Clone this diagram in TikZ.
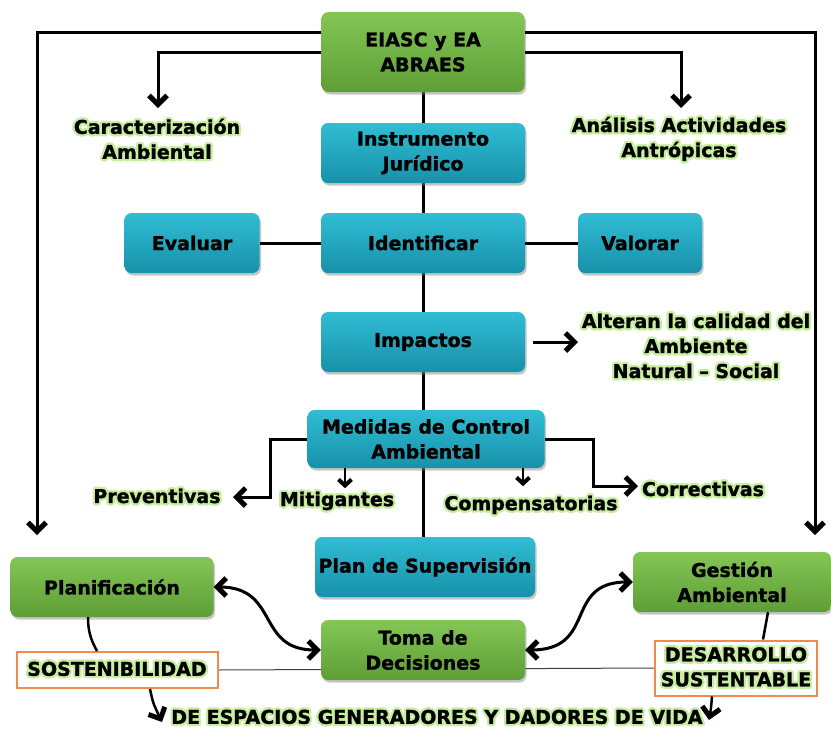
\documentclass[tikz,border=0pt]{standalone}
\usepackage{fontspec}
\setmainfont{DejaVu Sans}[BoldFont={DejaVu Sans Bold}, BoldFeatures={FakeBold=1.3}]
\usepackage{contour}
\usetikzlibrary{arrows.meta,shadows,calc,backgrounds}
\definecolor{gtop}{HTML}{84C656}
\definecolor{gbot}{HTML}{5E9E36}
\definecolor{ctop}{HTML}{30BDD4}
\definecolor{cbot}{HTML}{1791A9}
\definecolor{glowc}{HTML}{C6EE9E}
\definecolor{orangec}{HTML}{F08A4E}
\contourlength{2.2pt}
\newcommand{\gl}[1]{\contour{glowc}{#1}}
\begin{document}
\begin{tikzpicture}[x=1pt,y=-1pt,
  box/.style={rounded corners=7pt, align=center, inner sep=0pt,
    font=\bfseries\fontsize{19}{25}\selectfont,
    drop shadow={opacity=0.45, shadow xshift=1.5pt, shadow yshift=-2.5pt}},
  gbox/.style={box, top color=gtop, bottom color=gbot},
  cbox/.style={box, top color=ctop, bottom color=cbot},
  lbl/.style={align=center, inner sep=2pt, font=\bfseries\fontsize{19}{25}\selectfont},
  obox/.style={lbl, draw=orangec, line width=2pt, fill=white},
  line/.style={line width=3pt, draw=black},
  tip/.tip={Straight Barb[length=9pt,width=18pt,line width=5pt]},
  stip/.tip={Straight Barb[length=6pt,width=13pt,line width=4pt]},
  arr/.style={line, -tip},
  sarr/.style={line width=2.5pt, -stip},
  darr/.style={line width=3pt, tip-tip},
  thinline/.style={line width=1pt, draw=black!75}
]
\useasboundingbox (0,0) rectangle (831,729);

% boxes
\node[gbox, minimum width=203pt, minimum height=80pt] (E) at (423,52) {EIASC y EA\\ABRAES};
\node[cbox, minimum width=204pt, minimum height=60pt] (ins) at (423,153) {Instrumento\\Jurídico};
\node[cbox, minimum width=135pt, minimum height=60pt] (ev) at (192,243) {Evaluar};
\node[cbox, minimum width=204pt, minimum height=60pt] (id) at (423,243) {Identificar};
\node[cbox, minimum width=124pt, minimum height=60pt] (val) at (640,243) {Valorar};
\node[cbox, minimum width=204pt, minimum height=60pt] (imp) at (423,342) {Impactos};
\node[cbox, minimum width=237pt, minimum height=58pt] (med) at (426,439) {Medidas de Control\\Ambiental};
\node[cbox, minimum width=220pt, minimum height=60pt] (sup) at (425,567) {Plan de Supervisión};
\node[gbox, minimum width=203pt, minimum height=60pt] (pla) at (112,587) {Planificación};
\node[gbox, minimum width=198pt, minimum height=60pt] (ges) at (732,582) {Gestión\\Ambiental};
\node[gbox, minimum width=204pt, minimum height=60pt] (tom) at (423,650) {Toma de\\Decisiones};
\node[obox, minimum width=201pt, minimum height=36pt] (sos) at (117,670) {\gl{SOSTENIBILIDAD}};
\node[obox, minimum width=162pt, minimum height=55pt] (des) at (736,668) {\gl{DESARROLLO}\\\gl{SUSTENTABLE}};

% free labels
\node[lbl] (car) at (157,140) {\gl{Caracterización}\\\gl{Ambiental}};
\node[lbl] (ana) at (679,140) {\gl{Análisis Actividades}\\\gl{Antrópicas}};
\node[lbl] (alt) at (696,347) {\gl{Alteran la calidad del}\\\gl{Ambiente}\\\gl{Natural – Social}};
\node[lbl] (pre) at (157,497) {\gl{Preventivas}};
\node[lbl] (mit) at (337,502) {\gl{Mitigantes}};
\node[lbl] (com) at (531,506) {\gl{Compensatorias}};
\node[lbl] (cor) at (703,490) {\gl{Correctivas}};
\node[lbl] (bot) at (437,718) {\gl{DE ESPACIOS GENERADORES Y DADORES DE VIDA}};

% free ends
\coordinate (oL) at (37,535);
\coordinate (oR) at (815,535);
\coordinate (carT) at (158,108);
\coordinate (anaT) at (681,108);
\coordinate (altT) at (578,342);
\coordinate (preC) at (270,497);
\coordinate (preT) at (233,497);
\coordinate (corC) at (593,486);
\coordinate (corT) at (638,486);
\coordinate (sosT) at (162,722);
\coordinate (desT) at (709,720);

\begin{scope}[on background layer]
  \draw[line] (E.south) -- (sup.north -| E.south);
  \draw[thinline] (sos.east) -- (des.west);
\end{scope}

\draw[arr] ($(E.west)+(0,-20)$) -| (oL);
\draw[arr] ($(E.east)+(0,-20)$) -| (oR);
\draw[arr] (E.west) -| (carT);
\draw[arr] (E.east) -| (anaT);
\draw[line] (ev.east) -- (id.west);
\draw[line] (id.east) -- (val.west);
\draw[arr] ([xshift=8pt]imp.east) -- (altT);
\draw[arr] (med.west) -| (preC) -- (preT);
\draw[arr] (med.east) -| (corC) -- (corT);
\draw[sarr] ([xshift=-81pt]med.south) -- ++(0,20);
\draw[sarr] ([xshift=97pt]med.south) -- ++(0,18);
\draw[darr] (pla.east) .. controls +(66,0) and +(-65,0) .. (tom.west);
\draw[darr] (ges.west) .. controls +(-70,0) and +(73,0) .. (tom.east);
\draw[line, line width=2.5pt] ([xshift=-24pt]pla.south) .. controls +(0,18) and +(-4,-8) .. ([xshift=-20pt]sos.north);
\draw[line, line width=2.5pt] ([xshift=36pt]ges.south) -- ([xshift=27pt]des.north);
\draw[arr, line width=2.5pt] ([xshift=33pt]sos.south) .. controls +(3,14) .. (sosT);
\draw[arr, line width=2.5pt] ([xshift=-24pt]des.south) .. controls +(-1,12) .. (desT);
\end{tikzpicture}
\end{document}
